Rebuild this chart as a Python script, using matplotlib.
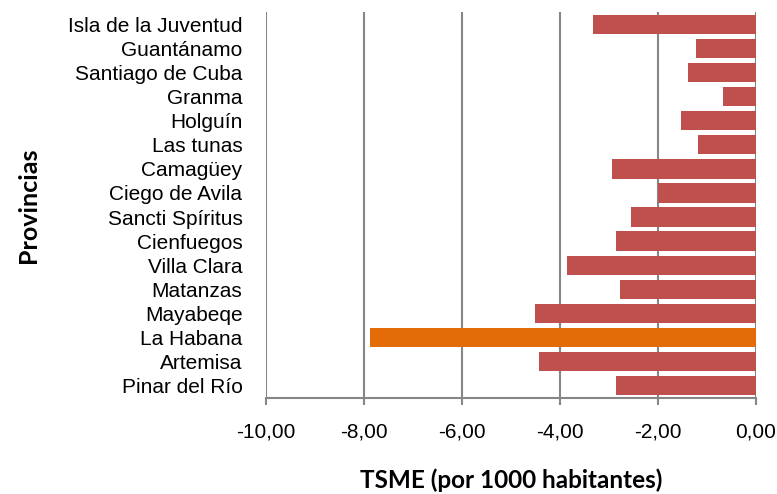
import matplotlib
matplotlib.use("Agg")
import matplotlib.pyplot as plt
from matplotlib.ticker import FuncFormatter

provincias = ["Pinar del Río", "Artemisa", "La Habana", "Mayabeqe", "Matanzas",
              "Villa Clara", "Cienfuegos", "Sancti Spíritus", "Ciego de Avila",
              "Camagüey", "Las tunas", "Holguín", "Granma", "Santiago de Cuba",
              "Guantánamo", "Isla de la Juventud"]
tsme = [-2.86, -4.43, -7.87, -4.50, -2.77, -3.86, -2.86, -2.55, -2.00,
        -2.93, -1.18, -1.52, -0.66, -1.37, -1.22, -3.32]
highlight = "La Habana"
xticks = [-10, -8, -6, -4, -2, 0]

red = "#C0504D"
orange = "#E36C09"
grid_c = "#868686"

plt.rcParams["font.family"] = ["Liberation Sans", "DejaVu Sans"]

fig = plt.figure(figsize=(7.77, 4.94), dpi=100)
ax = fig.add_axes([266/777, 1 - 397.5/494, (755.5-266)/777, (397.5-12.5)/494])

colors = [orange if p == highlight else red for p in provincias]
ax.barh(range(len(provincias)), tsme, height=0.8, color=colors, zorder=3)

ax.set_xlim(-10, 0)
ax.set_ylim(-0.5, len(provincias) - 0.5)
ax.set_xticks(xticks)
ax.xaxis.set_major_formatter(FuncFormatter(lambda v, p: f"{v:.2f}".replace(".", ",")))
ax.set_yticks(range(len(provincias)))
ax.set_yticklabels(provincias)
ax.tick_params(axis="both", labelsize=15, labelcolor="black")

ax.grid(axis="x", color=grid_c, linewidth=1.5, zorder=0)
for s in ["top", "right", "left"]:
    ax.spines[s].set_visible(False)
ax.spines["bottom"].set_color(grid_c)
ax.spines["bottom"].set_linewidth(1.5)
ax.tick_params(axis="x", direction="out", length=5, width=1.5, color=grid_c, pad=13)
ax.tick_params(axis="y", length=0, pad=17)

ax.set_xlabel("TSME (por 1000 habitantes)", family="Lato", fontweight="bold",
              fontsize=17.5, va="center")
ax.xaxis.set_label_coords(0.5, (397.5 - 480.5) / 385)
ax.set_ylabel("Provincias", family="Lato", fontweight="bold", fontsize=18, va="center")
ax.yaxis.set_label_coords((29 - 266) / 489.5, 0.5)

fig.savefig("out.png", dpi=100)
